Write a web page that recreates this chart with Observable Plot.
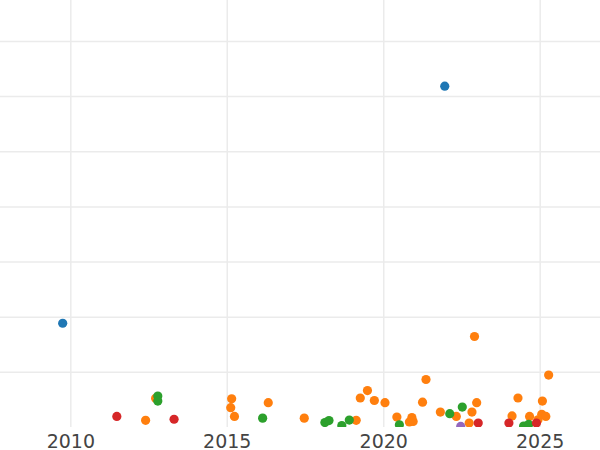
<!DOCTYPE html>
<html>
<head>
<meta charset="utf-8">
<script src="https://cdn.jsdelivr.net/npm/d3@7"></script>
<script src="https://cdn.jsdelivr.net/npm/@observablehq/plot@0.6"></script>
<style>
  html, body { margin: 0; padding: 0; background: #fff; }
  #chart svg { display: block; }
</style>
</head>
<body>
<div id="chart"></div>
<script>
// Series (x = decimal year, y = value in grid units)
const seriesAX = [2009.74, 2021.95];
const seriesAY = [1.89, 6.19];

const seriesBX = [2012.39, 2012.71, 2015.14, 2015.11, 2015.23, 2016.31, 2017.46, 2019.12, 2019.25, 2019.48,
                  2019.70, 2020.04, 2020.42, 2020.90, 2020.82, 2020.94, 2021.24, 2021.35, 2021.81, 2022.32,
                  2022.73, 2022.82, 2022.90, 2022.97, 2024.10, 2024.29, 2024.66, 2024.93, 2025.05, 2025.07,
                  2025.18, 2025.27];
const seriesBY = [0.13, 0.53, 0.52, 0.36, 0.20, 0.45, 0.17, 0.13, 0.535, 0.67,
                  0.49, 0.45, 0.19, 0.18, 0.10, 0.11, 0.46, 0.87, 0.28, 0.20,
                  0.08, 0.28, 1.65, 0.45, 0.21, 0.535, 0.20, 0.14, 0.24, 0.48,
                  0.20, 0.95];

const seriesCX = [2012.78, 2012.78, 2016.13, 2018.12, 2018.25, 2018.66, 2018.90, 2020.50, 2022.11, 2022.51, 2024.47, 2024.63];
const seriesCY = [0.57, 0.48, 0.17, 0.09, 0.125, 0.035, 0.135, 0.05, 0.25, 0.37, 0.027, 0.055];

const seriesDX = [2011.47, 2013.30, 2023.02, 2024.00, 2024.88];
const seriesDY = [0.20, 0.15, 0.08, 0.08, 0.08];

const seriesEX = [2022.46];
const seriesEY = [0.02];

const groups = ["A", "B", "C", "D", "E"];
const groupColors = ["#1f77b4", "#ff7f0e", "#2ca02c", "#d62728", "#9467bd"];

const xTicks = [2010, 2015, 2020, 2025];
const yGrid = [1, 2, 3, 4, 5, 6, 7];

const series = [
  [seriesAX, seriesAY], [seriesBX, seriesBY], [seriesCX, seriesCY], [seriesDX, seriesDY], [seriesEX, seriesEY]
];
const data = [];
series.forEach(([xs, ys], i) => xs.forEach((x, j) => data.push({x, y: ys[j], g: groups[i]})));

const chart = Plot.plot({
  width: 600,
  height: 450,
  marginTop: 0,
  marginRight: 0,
  marginLeft: 0,
  marginBottom: 23,
  style: {fontFamily: "DejaVu Sans", background: "#fff"},
  x: {domain: [2007.753, 2026.927], ticks: xTicks, tickFormat: d3.format("d")},
  y: {domain: [0, 7.743], axis: null},
  color: {type: "ordinal", domain: groups, range: groupColors},
  marks: [
    Plot.ruleY(yGrid, {stroke: "#ebebeb", strokeWidth: 1.5}),
    Plot.ruleX(xTicks, {stroke: "#ebebeb", strokeWidth: 1.5}),
    Plot.dot(data, {x: "x", y: "y", fill: "g", r: 4.6, clip: true}),
    Plot.axisX({ticks: xTicks, tickFormat: d3.format("d"), tickSize: 0, tickPadding: 7,
                fontSize: 19, fill: "#444", label: null})
  ]
});
document.getElementById("chart").appendChild(chart);
</script>
</body>
</html>
